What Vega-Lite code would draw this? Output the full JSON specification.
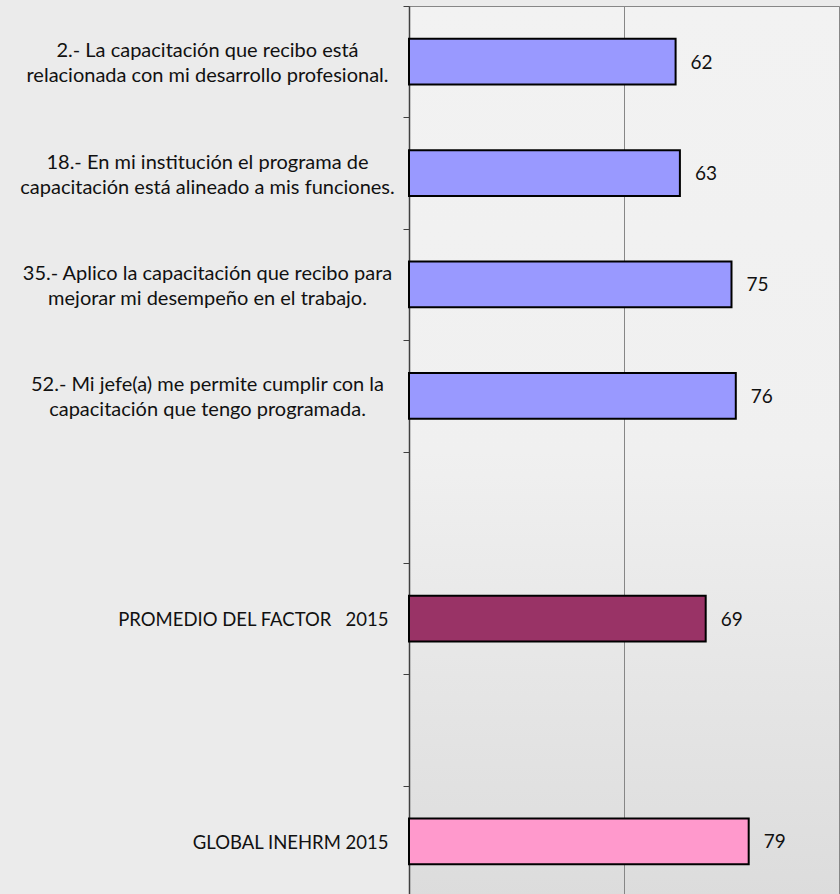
{
  "$schema": "https://vega.github.io/schema/vega-lite/v6.json",
  "width": 430,
  "height": 891,
  "autosize": {"type": "none"},
  "padding": {"left": 409, "top": 6, "right": 1, "bottom": 0},
  "background": "#ebebeb",
  "config": {
    "font": "Lato",
    "view": {
      "stroke": "#868686",
      "strokeWidth": 1,
      "fill": {"gradient": "linear", "x1": 0, "y1": 0, "x2": 0, "y2": 1, "stops": [{"offset": 0, "color": "#f2f2f2"}, {"offset": 0.5, "color": "#f0f0f0"}, {"offset": 1, "color": "#dcdcdc"}]}
    }
  },
  "data": {
    "values": [
      {"pregunta": "2.- La capacitación que recibo está|relacionada con mi desarrollo profesional.", "valor": 62, "grupo": "pregunta"},
      {"pregunta": "18.- En mi institución el programa de|capacitación está alineado a mis funciones.", "valor": 63, "grupo": "pregunta"},
      {"pregunta": "35.- Aplico la capacitación que recibo para|mejorar mi desempeño en el trabajo.", "valor": 75, "grupo": "pregunta"},
      {"pregunta": "52.- Mi jefe(a) me permite cumplir con la|capacitación que tengo programada.", "valor": 76, "grupo": "pregunta"},
      {"pregunta": "PROMEDIO DEL FACTOR \u00a0 2015", "valor": 69, "grupo": "promedio"},
      {"pregunta": "GLOBAL INEHRM 2015", "valor": 79, "grupo": "global"}
    ]
  },
  "layer": [
    {
      "mark": {"type": "bar", "height": {"band": 0.41}, "stroke": "#000000", "strokeWidth": 2},
      "encoding": {
        "y": {
          "field": "pregunta",
          "type": "nominal",
          "sort": null,
          "scale": {
            "domain": [
              "2.- La capacitación que recibo está|relacionada con mi desarrollo profesional.",
              "18.- En mi institución el programa de|capacitación está alineado a mis funciones.",
              "35.- Aplico la capacitación que recibo para|mejorar mi desempeño en el trabajo.",
              "52.- Mi jefe(a) me permite cumplir con la|capacitación que tengo programada.",
              " ",
              "PROMEDIO DEL FACTOR \u00a0 2015",
              "  ",
              "GLOBAL INEHRM 2015"
            ],
            "paddingInner": 0,
            "paddingOuter": 0
          },
          "axis": {
            "title": null,
            "tickBand": "extent",
            "tickSize": 6,
            "tickColor": "#404040",
            "tickWidth": 1,
            "domainColor": "#404040",
            "domainWidth": 1.5,
            "labelFont": "Lato",
            "labelFontSize": {"condition": {"test": "isString(datum.value) && indexof(datum.value, '|') >= 0", "value": 20}, "value": 18.5},
            "labelAlign": {"condition": {"test": "isString(datum.value) && indexof(datum.value, '|') >= 0", "value": "center"}, "value": "right"},
            "labelColor": "#111111",
            "labelLineHeight": 25,
            "labelLimit": 600,
            "labelPadding": 15,
            "labelExpr": "split(datum.label, '|')",
            "encoding": {
              "labels": {
                "dx": {"condition": {"test": "isString(datum.value) && indexof(datum.value, '|') >= 0", "value": -181}, "value": 0},
                "dy": {"condition": {"test": "isString(datum.value) && indexof(datum.value, '|') >= 0", "value": -11}, "value": 1}
              }
            }
          }
        },
        "x": {
          "field": "valor",
          "type": "quantitative",
          "scale": {"domain": [0, 100], "nice": false},
          "axis": {"title": null, "labels": false, "ticks": false, "domain": false, "grid": true, "values": [0, 50, 100], "gridColor": "#868686", "gridWidth": 1, "gridOpacity": 1}
        },
        "color": {
          "field": "grupo",
          "type": "nominal",
          "scale": {"domain": ["pregunta", "promedio", "global"], "range": ["#9999FF", "#993366", "#FF99CC"]},
          "legend": null
        }
      }
    },
    {
      "mark": {"type": "text", "align": "left", "baseline": "middle", "dx": 15, "dy": 1, "fontSize": 19, "font": "Lato", "color": "#111111"},
      "encoding": {
        "y": {"field": "pregunta", "type": "nominal", "sort": null},
        "x": {"field": "valor", "type": "quantitative"},
        "text": {"field": "valor", "type": "quantitative"}
      }
    }
  ]
}
